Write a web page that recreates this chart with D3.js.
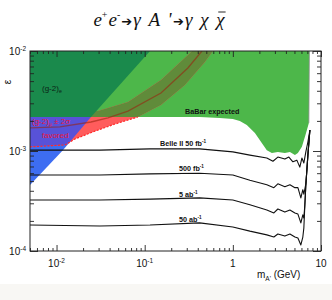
<!DOCTYPE html>
<html>
<head>
<meta charset="utf-8">
<script src="https://cdn.jsdelivr.net/npm/d3@7"></script>
<style>
body { margin: 0; background: #fff; }
svg { display: block; font-family: "Liberation Sans", Arial, sans-serif; }
</style>
</head>
<body>
<div id="svgcontainer"></div>
<script>
// --- --- Data: [mass in GeV, epsilon] --- ---

var xTickValues = [0.01, 0.1, 1, 10];
var xTickLabels = [["10", "-2"], ["10", "-1"], ["1", ""], ["10", ""]];
var yTickValues = [1e-2, 1e-3, 1e-4];
var yTickLabels = [["10", "-2"], ["10", "-3"], ["10", "-4"]];

// BaBar expected, lower edge of the region (closed along the top of the frame)
var babarLower = [[0.005, 2.19e-3], [0.115, 2.19e-3], [0.42, 2.19e-3], [0.71, 2.14e-3], [1.0, 2.09e-3],
    [1.2, 2.0e-3], [1.44, 1.82e-3], [1.78, 1.51e-3], [2.13, 1.20e-3], [2.43, 1.02e-3], [2.77, 9.55e-4],
    [3.24, 9.77e-4], [3.89, 9.55e-4], [4.44, 9.77e-4], [5.06, 9.12e-4], [5.47, 9.55e-4], [6.07, 1.10e-3],
    [6.56, 1.38e-3], [6.92, 1.62e-3], [7.28, 1.91e-3], [7.38, 1e-2]];

// (g-2)_e excluded
var g2eRegion = [[0.005, 2.19e-3], [0.0246, 2.19e-3], [0.115, 1e-2], [0.005, 1e-2]];
// blue excluded region
var blueRegion = [[0.005, 4.57e-4], [0.0118, 1.02e-3], [0.0246, 2.19e-3], [0.005, 2.19e-3]];

// (g-2)_mu +- 2 sigma band
var g2muLower = [[0.005, 1.10e-3], [0.0125, 1.15e-3], [0.0162, 1.32e-3], [0.0273, 1.58e-3], [0.046, 1.86e-3],
    [0.0837, 2.19e-3], [0.153, 2.88e-3], [0.286, 4.57e-3], [0.482, 7.76e-3], [0.594, 1e-2]];
var g2muUpper = [[0.005, 2.63e-3], [0.0142, 2.57e-3], [0.0295, 2.51e-3], [0.0646, 3.09e-3], [0.153, 5.13e-3],
    [0.309, 9.12e-3], [0.344, 1e-2]];
var g2muCenter = [[0.005, 1.70e-3], [0.0109, 1.74e-3], [0.0246, 1.95e-3], [0.0383, 2.14e-3], [0.0646, 2.51e-3],
    [0.153, 3.80e-3], [0.309, 6.76e-3], [0.446, 1e-2]];

// Belle II sensitivity curves
var belle50fb = [[0.005, 1.02e-3], [0.031, 1.02e-3], [0.115, 1.05e-3], [0.42, 1.05e-3], [1.0, 9.8e-4],
    [1.56, 9.1e-4], [2.43, 8.5e-4], [2.85, 7.9e-4], [3.24, 8.7e-4], [3.89, 8.3e-4], [4.32, 8.7e-4],
    [4.80, 7.8e-4], [5.32, 8.1e-4], [5.75, 6.9e-4], [6.07, 8.5e-4], [6.39, 7.6e-4], [6.73, 9.8e-4],
    [7.10, 1.23e-3], [7.48, 1.62e-3]];
var belle500fb = [[0.005, 5.75e-4], [0.031, 5.75e-4], [0.115, 5.9e-4], [0.42, 6.0e-4], [1.0, 5.75e-4],
    [1.56, 5.1e-4], [2.43, 4.6e-4], [2.92, 4.3e-4], [3.24, 4.7e-4], [3.89, 4.4e-4], [4.44, 4.6e-4],
    [5.06, 4.3e-4], [5.47, 4.3e-4], [5.91, 3.4e-4], [6.22, 4.1e-4], [6.39, 3.7e-4], [6.73, 4.7e-4],
    [6.92, 6.5e-4], [7.10, 9.1e-4], [7.48, 1.62e-3]];
var belle5ab = [[0.005, 3.24e-4], [0.031, 3.24e-4], [0.115, 3.3e-4], [0.42, 3.4e-4], [1.0, 3.24e-4],
    [1.56, 2.9e-4], [2.43, 2.57e-4], [2.92, 2.4e-4], [3.24, 2.63e-4], [3.89, 2.45e-4], [4.44, 2.57e-4],
    [5.06, 2.4e-4], [5.47, 2.34e-4], [5.91, 1.91e-4], [6.22, 2.3e-4], [6.39, 2.14e-4], [6.56, 2.9e-4],
    [6.73, 4.57e-4], [7.10, 9.1e-4], [7.48, 1.62e-3]];
var belle50ab = [[0.005, 1.82e-4], [0.031, 1.78e-4], [0.115, 1.82e-4], [0.42, 1.91e-4], [1.0, 1.74e-4],
    [1.56, 1.58e-4], [2.43, 1.45e-4], [2.92, 1.38e-4], [3.24, 1.48e-4], [3.89, 1.41e-4], [4.44, 1.48e-4],
    [5.06, 1.38e-4], [5.47, 1.35e-4], [5.91, 1.15e-4], [6.22, 1.38e-4], [6.39, 1.70e-4], [6.56, 2.9e-4],
    [6.73, 4.57e-4], [7.10, 9.1e-4], [7.48, 1.62e-3]];

// --- --- Dimensions --- ---
var width = 332;
var height = 300;
var margin = ({top: 51, right: 11, bottom: 49, left: 30});

var babar_color = "#4db74a";
var g2e_color = "#1a8a4c";
var blue_color = "#3d6df2";
var band_red = "#ff5c5c";
var band_olive = "#608b3a";
var band_purple = "#5852d8";

var x = d3.scaleLog().domain([0.005, 10]).range([margin.left, width - margin.right]);
var y = d3.scaleLog().domain([1e-4, 1e-2]).range([height - margin.bottom, margin.top]);
var line = d3.line().x(d => x(d[0])).y(d => y(d[1]));

const svg = d3.select("#svgcontainer").append("svg")
    .attr("width", width).attr("height", height).attr("viewBox", [0, 0, width, height]);

// faint paper band at the bottom
svg.append("rect").attr("x", 0).attr("y", 284).attr("width", width).attr("height", 16).attr("fill", "#f8f7f4");

var defs = svg.append("defs");
defs.append("clipPath").attr("id", "plotclip").append("rect")
    .attr("x", margin.left).attr("y", margin.top)
    .attr("width", width - margin.left - margin.right).attr("height", height - margin.top - margin.bottom);

var babarPoly = babarLower.concat([[0.005, 1e-2]]);
defs.append("clipPath").attr("id", "babarclip").append("path").attr("d", line(babarPoly) + "Z");
defs.append("clipPath").attr("id", "blueclip").append("path").attr("d", line(blueRegion) + "Z");

var plot = svg.append("g").attr("clip-path", "url(#plotclip)");

// --- Regions ---
plot.append("path").attr("d", line(babarPoly) + "Z").attr("fill", babar_color);
plot.append("path").attr("d", line(blueRegion) + "Z").attr("fill", blue_color);

var bandPoly = g2muLower.concat(g2muUpper.slice().reverse());
plot.append("path").attr("d", line(bandPoly) + "Z").attr("fill", band_red);
plot.append("g").attr("clip-path", "url(#babarclip)")
    .append("path").attr("d", line(bandPoly) + "Z").attr("fill", band_olive);
plot.append("g").attr("clip-path", "url(#blueclip)")
    .append("path").attr("d", line(bandPoly) + "Z").attr("fill", band_purple);

// dashed lower edge of the band, below the BaBar region only
plot.append("path").attr("d", line(g2muLower.filter(d => d[1] <= 2.19e-3)))
    .attr("fill", "none").attr("stroke", "#ff2a2a").attr("stroke-width", 1.2).attr("stroke-dasharray", "2,1.5");

// band central value
plot.append("path").attr("d", line(g2muCenter))
    .attr("fill", "none").attr("stroke", "#9a2410").attr("stroke-width", 1.3).attr("stroke-opacity", 0.6);

plot.append("path").attr("d", line(g2eRegion) + "Z").attr("fill", g2e_color);

// thin edge on the right of the BaBar region
plot.append("path").attr("d", line(babarLower.slice(-2)))
    .attr("fill", "none").attr("stroke", "#8a8a8a").attr("stroke-width", 0.8);

// --- Belle II curves ---
[belle50fb, belle500fb, belle5ab, belle50ab].forEach(function(curve){
    plot.append("path").attr("d", line(curve))
        .attr("fill", "none").attr("stroke", "#111").attr("stroke-width", 1.1).attr("stroke-linejoin", "round");
});

// --- Annotations ---
function addText(px, py, parts, size, color, weight){
    var t = svg.append("text").attr("x", px).attr("y", py).attr("font-size", size).attr("fill", color)
        .attr("font-weight", weight || "normal");
    parts.forEach(function(p){
        var ts = t.append("tspan").text(p.t);
        if (p.sup){ ts.attr("dy", -size * 0.4).attr("font-size", size * 0.65); }
        if (p.sub){ ts.attr("dy", size * 0.3).attr("font-size", size * 0.65); }
        if (p.back){ ts.attr("dy", p.back); }
    });
    return t;
}

addText(42, 91, [{t: "(g-2)"}, {t: "e", sub: true}], 8, "#0b2416");
addText(32, 124, [{t: "(g-2)"}, {t: "μ", sub: true}, {t: " ± 2σ", back: -2.4}], 8, "#e8163a");
addText(42, 138, [{t: "favored"}], 8, "#e8163a");
addText(185, 114, [{t: "BaBar expected"}], 7.2, "#111", "bold");
addText(160, 146, [{t: "Belle II 50 fb"}, {t: "-1", sup: true}], 7.2, "#111", "bold");
addText(179, 171, [{t: "500 fb"}, {t: "-1", sup: true}], 7.2, "#111", "bold");
addText(179, 197, [{t: "5 ab"}, {t: "-1", sup: true}], 7.2, "#111", "bold");
addText(179, 222, [{t: "50 ab"}, {t: "-1", sup: true}], 7.2, "#111", "bold");

// --- Frame and ticks ---
var plotW = width - margin.left - margin.right;
var plotH = height - margin.top - margin.bottom;

function isMajor(d){
    var l = Math.log10(d);
    return Math.abs(l - Math.round(l)) < 1e-6;
}

function styleTicks(g){
    g.select(".domain").remove();
    g.selectAll("text").remove();
    g.selectAll("line").attr("stroke", "#222").attr("stroke-width", 0.9);
    return g;
}

svg.append("g").attr("transform", "translate(0," + (height - margin.bottom) + ")")
    .call(d3.axisBottom(x).tickValues(x.ticks()).tickFormat("").tickSizeOuter(0))
    .call(styleTicks).selectAll("line").attr("y2", d => isMajor(d) ? -6 : -3);
svg.append("g").attr("transform", "translate(0," + margin.top + ")")
    .call(d3.axisTop(x).tickValues(x.ticks()).tickFormat("").tickSizeOuter(0))
    .call(styleTicks).selectAll("line").attr("y2", d => isMajor(d) ? 6 : 3);
svg.append("g").attr("transform", "translate(" + margin.left + ",0)")
    .call(d3.axisLeft(y).tickValues(y.ticks()).tickFormat("").tickSizeOuter(0))
    .call(styleTicks).selectAll("line").attr("x2", d => isMajor(d) ? 8 : 4);
svg.append("g").attr("transform", "translate(" + (width - margin.right) + ",0)")
    .call(d3.axisRight(y).tickValues(y.ticks()).tickFormat("").tickSizeOuter(0))
    .call(styleTicks).selectAll("line").attr("x2", d => isMajor(d) ? -8 : -4);

svg.append("rect").attr("x", margin.left).attr("y", margin.top).attr("width", plotW).attr("height", plotH)
    .attr("fill", "none").attr("stroke", "#222").attr("stroke-width", 1);

// tick labels
xTickValues.forEach(function(v, i){
    var t = svg.append("text").attr("x", x(v)).attr("y", 267).attr("font-size", 10)
        .attr("text-anchor", "middle").attr("fill", "#111");
    t.append("tspan").text(xTickLabels[i][0]);
    if (xTickLabels[i][1] != ""){
        t.append("tspan").text(xTickLabels[i][1]).attr("dy", -4).attr("font-size", 6.5);
    }
});
yTickValues.forEach(function(v, i){
    var t = svg.append("text").attr("x", 26).attr("y", y(v) + 4).attr("font-size", 10)
        .attr("text-anchor", "end").attr("fill", "#111");
    t.append("tspan").text(yTickLabels[i][0]);
    t.append("tspan").text(yTickLabels[i][1]).attr("dy", -4).attr("font-size", 6.5);
});

// axis titles
addText(257, 278, [{t: "m"}, {t: "A'", sub: true}, {t: " (GeV)", back: -3}], 10, "#111");
svg.append("text").attr("transform", "translate(11,82) rotate(-90)").attr("text-anchor", "middle")
    .attr("font-size", 10).attr("fill", "#111").text("ε");

// title
var title = svg.append("text").attr("x", 159).attr("y", 26).attr("text-anchor", "middle")
    .attr("font-family", "'Liberation Serif', serif").attr("font-size", 19).attr("fill", "#111");
title.append("tspan").text("e").attr("font-style", "italic");
title.append("tspan").text("+").attr("dy", -8).attr("font-size", 10);
title.append("tspan").text("e").attr("font-style", "italic").attr("dy", 8).attr("dx", 1);
title.append("tspan").text("-").attr("dy", -8).attr("font-size", 10);
title.append("tspan").text("➔").attr("dy", 8).attr("dx", 1).attr("font-family", "'DejaVu Sans'").attr("font-size", 13);
title.append("tspan").text("γ A '").attr("font-style", "italic").attr("dx", 1).attr("letter-spacing", 1.5);
title.append("tspan").text("➔").attr("font-family", "'DejaVu Sans'").attr("font-size", 13);
title.append("tspan").text("γ χ ").attr("font-style", "italic").attr("dx", 1).attr("letter-spacing", 1.5);
var chiBar = title.append("tspan").text("χ").attr("font-style", "italic");

// bar over the last chi
var nChars = title.node().getNumberOfChars();
var chiBox = title.node().getExtentOfChar(nChars - 1);
svg.append("line")
    .attr("x1", chiBox.x + 2).attr("x2", chiBox.x + chiBox.width + 1)
    .attr("y1", 12).attr("y2", 12)
    .attr("stroke", "#111").attr("stroke-width", 0.9);
</script>
</body>
</html>
